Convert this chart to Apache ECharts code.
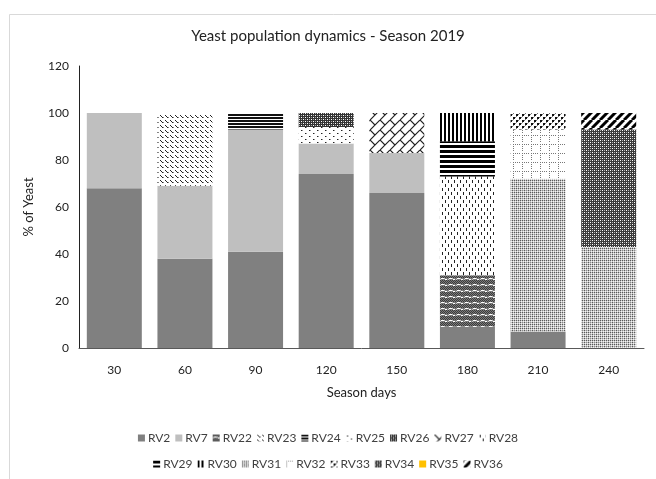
<!DOCTYPE html>
<html>
<head>
<meta charset="utf-8">
<script src="https://cdn.jsdelivr.net/npm/echarts@6/dist/echarts.min.js"></script>
<style>
  html, body { margin: 0; padding: 0; background: #fff; }
  #chart { width: 656px; height: 479px; }
</style>
</head>
<body>
<div id="chart"></div>
<script>
// Sampling days of the season (x categories)
const days = ['30', '60', '90', '120', '150', '180', '210', '240'];

// Share (%) of each yeast strain per sampling day
const RV2  = [68, 38, 41, 74, 66,  9,  7,  0];
const RV7  = [32, 31, 52, 13, 17,  0,  0,  0];
const RV22 = [ 0,  0,  0,  0,  0, 22,  0,  0];
const RV23 = [ 0, 31,  0,  0,  0,  0,  0,  0];
const RV24 = [ 0,  0,  7,  0,  0,  0,  0,  0];
const RV25 = [ 0,  0,  0,  7,  0,  0,  0,  0];
const RV26 = [ 0,  0,  0,  6,  0,  0,  0,  0];
const RV27 = [ 0,  0,  0,  0, 17,  0,  0,  0];
const RV28 = [ 0,  0,  0,  0,  0, 42,  0,  0];
const RV29 = [ 0,  0,  0,  0,  0, 15,  0,  0];
const RV30 = [ 0,  0,  0,  0,  0, 12,  0,  0];
const RV31 = [ 0,  0,  0,  0,  0,  0, 65, 43];
const RV32 = [ 0,  0,  0,  0,  0,  0, 21,  0];
const RV33 = [ 0,  0,  0,  0,  0,  0,  7,  0];
const RV34 = [ 0,  0,  0,  0,  0,  0,  0, 50];
const RV35 = [ 0,  0,  0,  0,  0,  0,  0,  0];
const RV36 = [ 0,  0,  0,  0,  0,  0,  0,  7];

// Y axis ticks
const yMin = 0, yMax = 120, yStep = 20;

// --- small tiled fill patterns -------------------------------------------
function tile(w, h, draw) {
  const c = document.createElement('canvas');
  c.width = w; c.height = h;
  const g = c.getContext('2d');
  g.fillStyle = '#fff';
  g.fillRect(0, 0, w, h);
  draw(g);
  return { image: c, repeat: 'repeat' };
}
function px(g, col, pts) {
  g.fillStyle = col;
  pts.forEach(p => g.fillRect(p[0], p[1], p[2] || 1, p[3] || 1));
}

const fills = {
  RV2: '#808080',
  RV7: '#bfbfbf',
  // dark checker with light dashes
  RV22: tile(8, 6, g => {
    g.fillStyle = '#7a7a7a'; g.fillRect(0, 0, 8, 6);
    px(g, '#3c3c3c', [[0,0],[2,0],[4,0],[6,0],[1,1],[3,1],[5,1],[7,1],[0,4],[2,4],[4,4],[6,4],[1,5],[3,5],[5,5],[7,5]]);
    px(g, '#ffffff', [[1,2,3,1],[5,3,2,1]]);
    px(g, '#c8c8c8', [[0,3],[4,2]]);
  }),
  // short backslash dashes
  RV23: tile(5, 5, g => {
    px(g, '#222', [[0,0],[1,1],[2,2]]);
    px(g, '#888', [[3,2]]);
  }),
  // horizontal lines
  RV24: tile(4, 3, g => {
    px(g, '#111', [[0,0,4,2]]);
  }),
  // sparse dots
  RV25: tile(8, 6, g => {
    px(g, '#222', [[1,1],[5,4]]);
    px(g, '#999', [[2,1],[6,4]]);
  }),
  // dense dark checker
  RV26: tile(4, 4, g => {
    g.fillStyle = '#333'; g.fillRect(0, 0, 4, 4);
    px(g, '#fff', [[1,1],[3,3]]);
    px(g, '#aaa', [[3,1],[1,3]]);
  }),
  // shingle / cross hatch
  RV27: tile(10, 10, g => {
    g.strokeStyle = '#222'; g.lineWidth = 1.2;
    g.beginPath();
    g.moveTo(0, 10); g.lineTo(10, 0);
    g.moveTo(-5, 5); g.lineTo(0, 0);
    g.moveTo(0, 0); g.lineTo(5, 5);
    g.moveTo(10, 10); g.lineTo(15, 5);
    g.stroke();
  }),
  // vertical dashes, staggered
  RV28: tile(6, 8, g => {
    px(g, '#222', [[1,0,1,3],[4,4,1,3]]);
  }),
  // thick horizontal lines
  RV29: tile(4, 5, g => {
    px(g, '#000', [[0,0,4,3]]);
  }),
  // thick vertical lines
  RV30: tile(4, 4, g => {
    px(g, '#000', [[0,0,2,4]]);
  }),
  // light fine grid of dots
  RV31: tile(4, 4, g => {
    g.fillStyle = '#c4c4c4'; g.fillRect(0, 0, 4, 4);
    px(g, '#5a5a5a', [[0,0],[2,0],[0,2]]);
    px(g, '#f4f4f4', [[1,1],[3,1],[1,3],[3,3]]);
    px(g, '#8a8a8a', [[2,2]]);
  }),
  // dashed grid
  RV32: tile(9, 9, g => {
    px(g, '#777', [[0,0],[0,2],[0,4],[0,6],[2,0],[4,0],[6,0]]);
  }),
  // dark blotches
  RV33: tile(6, 6, g => {
    px(g, '#111', [[0,0,2,2],[3,3,2,2]]);
    px(g, '#777', [[2,0],[5,3],[0,2],[3,5]]);
  }),
  // dark checker
  RV34: tile(4, 4, g => {
    g.fillStyle = '#3a3a3a'; g.fillRect(0, 0, 4, 4);
    px(g, '#ffffff', [[0,0],[2,2]]);
    px(g, '#b0b0b0', [[2,0],[0,2]]);
  }),
  RV35: '#ffc000',
  // thick diagonal stripes
  RV36: tile(8, 8, g => {
    g.strokeStyle = '#000'; g.lineWidth = 3;
    g.beginPath();
    for (let k = -8; k <= 16; k += 8) { g.moveTo(k, 8); g.lineTo(k + 8, 0); }
    g.stroke();
  })
};

const strains = [
  ['RV2', RV2], ['RV7', RV7], ['RV22', RV22], ['RV23', RV23], ['RV24', RV24],
  ['RV25', RV25], ['RV26', RV26], ['RV27', RV27], ['RV28', RV28], ['RV29', RV29],
  ['RV30', RV30], ['RV31', RV31], ['RV32', RV32], ['RV33', RV33], ['RV34', RV34],
  ['RV35', RV35], ['RV36', RV36]
];
const row1 = ['RV2','RV7','RV22','RV23','RV24','RV25','RV26','RV27','RV28'];
const row2 = ['RV29','RV30','RV31','RV32','RV33','RV34','RV35','RV36'];

const FONT = 'Lato';
const legendBase = {
  left: 'center',
  orient: 'horizontal',
  icon: 'rect',
  itemWidth: 7,
  itemHeight: 7,
  itemGap: 5,
  selectedMode: false,
  textStyle: { fontFamily: FONT, fontSize: 12, color: '#404040', padding: [0, 0, 0, -2] }
};

const chart = echarts.init(document.getElementById('chart'), null, { renderer: 'canvas' });
chart.setOption({
  backgroundColor: '#fff',
  animation: false,
  title: {
    text: 'Yeast population dynamics - Season 2019',
    left: 'center',
    top: 24,
    textStyle: { fontFamily: FONT, fontSize: 15, fontWeight: 'normal', color: '#222' }
  },
  graphic: [{
    type: 'rect',
    left: 7, top: 12,
    shape: { width: 700, height: 500 },
    style: { fill: 'none', stroke: '#d9d9d9', lineWidth: 1 },
    silent: true
  }],
  legend: [
    Object.assign({}, legendBase, { data: row1, top: 427 }),
    Object.assign({}, legendBase, { data: row2, top: 453 })
  ],
  grid: { left: 79, right: 12, top: 66, bottom: 131 },
  xAxis: {
    type: 'category',
    data: days,
    name: 'Season days',
    nameLocation: 'middle',
    nameGap: 38,
    nameTextStyle: { fontFamily: FONT, fontSize: 13, color: '#222' },
    axisLine: { lineStyle: { color: '#595959', width: 1 } },
    axisTick: { show: false },
    axisLabel: { fontFamily: FONT, fontSize: 12, color: '#222', margin: 16 }
  },
  yAxis: {
    type: 'value',
    min: yMin, max: yMax, interval: yStep,
    name: '% of Yeast',
    nameLocation: 'middle',
    nameGap: 44,
    nameTextStyle: { fontFamily: FONT, fontSize: 13, color: '#222' },
    axisLine: { show: true, lineStyle: { color: '#222', width: 1 } },
    axisTick: { show: false },
    splitLine: { show: false },
    axisLabel: { fontFamily: FONT, fontSize: 12, color: '#222', margin: 10 }
  },
  series: strains.map(([name, vals]) => ({
    name: name,
    type: 'bar',
    stack: 'share',
    barWidth: 55,
    data: vals,
    itemStyle: { color: fills[name] },
    emphasis: { disabled: true }
  }))
});
</script>
</body>
</html>
